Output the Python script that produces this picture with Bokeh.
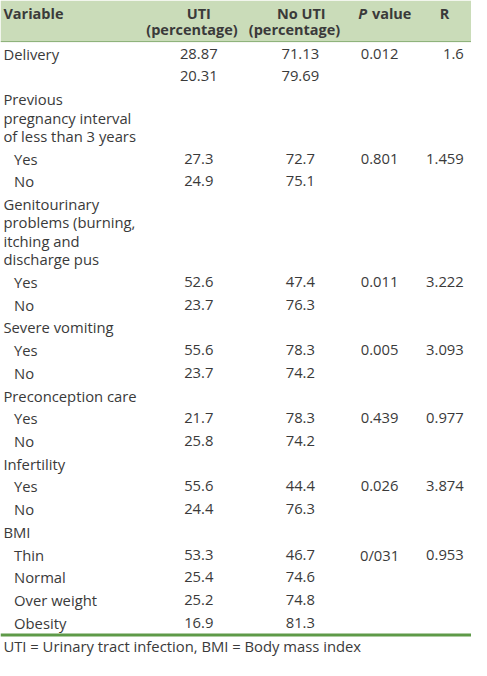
from bokeh.plotting import figure
from bokeh.models import Range1d, ColumnDataSource
from bokeh.core.properties import value
from bokeh.embed import file_html
from bokeh.resources import INLINE

# ---------------- data ----------------
variables = [
    "Delivery", "",
    "Previous\npregnancy interval\nof less than 3 years", "Yes", "No",
    "Genitourinary\nproblems (burning,\nitching and\ndischarge pus", "Yes", "No",
    "Severe vomiting", "Yes", "No",
    "Preconception care", "Yes", "No",
    "Infertility", "Yes", "No",
    "BMI", "Thin", "Normal", "Over weight", "Obesity",
]
indent = [0, 0, 0, 1, 1, 0, 1, 1, 0, 1, 1, 0, 1, 1, 0, 1, 1, 0, 1, 1, 1, 1]
uti = ["28.87", "20.31", "", "27.3", "24.9", "", "52.6", "23.7", "", "55.6", "23.7",
       "", "21.7", "25.8", "", "55.6", "24.4", "", "53.3", "25.4", "25.2", "16.9"]
no_uti = ["71.13", "79.69", "", "72.7", "75.1", "", "47.4", "76.3", "", "78.3", "74.2",
          "", "78.3", "74.2", "", "44.4", "76.3", "", "46.7", "74.6", "74.8", "81.3"]
p_value = ["0.012", "", "", "0.801", "", "", "0.011", "", "", "0.005", "",
           "", "0.439", "", "", "0.026", "", "", "0/031", "", "", ""]
r_value = ["1.6", "", "", "1.459", "", "", "3.222", "", "", "3.093", "",
           "", "0.977", "", "", "3.874", "", "", "0.953", "", "", ""]
footnote = "UTI = Urinary tract infection, BMI = Body mass index"

# ---------------- layout ----------------
REF_W = 487
W, H = 471, 660
s = W / REF_W
REF_H = H / s
FONT = "Open Sans"
TXT = "#3a3a3a"
fs = lambda px: value(f"{px * s:.1f}px")

ROW_STEP, LINE_STEP, FIRST_Y = 23.5, 19.0, 55.0
HEADER_BOTTOM = 42.5
RULE_Y = 656.0

p = figure(width=W, height=H, x_range=Range1d(0, REF_W), y_range=Range1d(REF_H, 0),
           output_backend="svg", toolbar_location=None, min_border=0,
           x_axis_location=None, y_axis_location=None)
p.grid.visible = False
p.outline_line_color = None
p.background_fill_color = "white"
p.border_fill_color = "white"

# header band
p.quad(left=0, right=REF_W, top=0, bottom=HEADER_BOTTOM, fill_color="#cadcb9", line_color=None)
p.segment(x0=0, x1=REF_W, y0=HEADER_BOTTOM, y1=HEADER_BOTTOM, line_color="#86ad72", line_width=1)
p.segment(x0=0, x1=REF_W, y0=RULE_Y, y1=RULE_Y, line_color="#5e9a48", line_width=3 * s)

# header text
hdr = dict(text_font=value(FONT), text_font_size=fs(15), text_color=TXT,
           text_font_style="bold", text_baseline="middle")
p.text(x=[3], y=[13], text=["Variable"], text_align="left", **hdr)
p.text(x=[205, 198], y=[13, 30], text=["UTI", "(percentage)"], text_align="center", **hdr)
p.text(x=[311, 304], y=[13, 30], text=["No UTI", "(percentage)"], text_align="center", **hdr)
p.text(x=[370], y=[13], text=["P"], text_align="left",
       text_font=value(FONT), text_font_size=fs(15), text_color=TXT,
       text_font_style="bold italic", text_baseline="middle")
p.text(x=[384], y=[13], text=["value"], text_align="left", **hdr)
p.text(x=[459], y=[13], text=["R"], text_align="center", **hdr)

# body
vx, vy, vt = [], [], []
ry = []
y = FIRST_Y
for lab, ind in zip(variables, indent):
    lines = lab.split("\n")
    ry.append(y)
    for k, line in enumerate(lines):
        vx.append(3 + 11 * ind)
        vy.append(y + k * LINE_STEP)
        vt.append(line)
    y = y + (len(lines) - 1) * LINE_STEP + ROW_STEP

body = dict(text_font=value(FONT), text_font_size=fs(15.3), text_color=TXT,
            text_baseline="middle")
p.text(x="x", y="y", text="t", source=ColumnDataSource(dict(x=vx, y=vy, t=vt)),
       text_align="left", **body)
p.text(x="x", y="y", text="t",
       source=ColumnDataSource(dict(x=[205] * len(uti), y=ry, t=uti)),
       text_align="center", **body)
p.text(x="x", y="y", text="t",
       source=ColumnDataSource(dict(x=[310] * len(no_uti), y=ry, t=no_uti)),
       text_align="center", **body)
p.text(x="x", y="y", text="t",
       source=ColumnDataSource(dict(x=[392] * len(p_value), y=ry, t=p_value)),
       text_align="center", **body)
p.text(x="x", y="y", text="t",
       source=ColumnDataSource(dict(x=[479] * len(r_value), y=ry, t=r_value)),
       text_align="right", **body)

# footnote
p.text(x=[3], y=[667], text=[footnote], text_align="left", **body)

open("out.html", "w").write(file_html(p, INLINE))
